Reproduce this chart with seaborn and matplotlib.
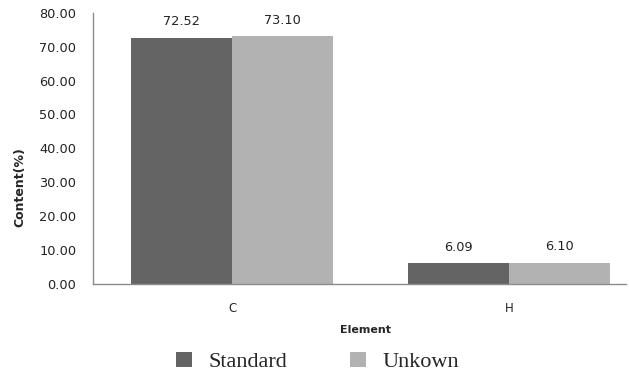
import matplotlib
matplotlib.use("Agg")
import matplotlib.pyplot as plt
import seaborn as sns
import pandas as pd
from matplotlib.patches import Patch

elements = ["C", "H"]
standard = [72.52, 6.09]
unknown = [73.10, 6.10]
series = ["Standard", "Unkown"]
yticks = [0, 10, 20, 30, 40, 50, 60, 70, 80]

df = pd.DataFrame({
    "Element": elements * 2,
    "Content": standard + unknown,
    "Series": [series[0]] * len(elements) + [series[1]] * len(elements),
})

sns.set_style("white")
plt.rcParams["font.family"] = ["DejaVu Sans"]

fig = plt.figure(figsize=(6.29, 3.78), dpi=100)
ax = fig.add_axes([0.148, 0.249, 0.847, 0.717])

colors = ["#646464", "#b2b2b2"]
sns.barplot(data=df, x="Element", y="Content", hue="Series", palette=colors,
            width=0.73, saturation=1, ax=ax, legend=False, edgecolor="none")

for cont in ax.containers:
    ax.bar_label(cont, labels=[f"{v:.2f}" for v in cont.datavalues],
                 padding=7, fontsize=9.3, color="#222222")

ax.set_xlim(-0.502, 1.422)
ax.set_ylim(0, 80)
ax.set_yticks(yticks)
ax.set_yticklabels([f"{v:.2f}" for v in yticks], fontsize=9.3, color="#222222")
ax.tick_params(axis="x", labelsize=8.5, colors="#222222", length=0, pad=13)
ax.tick_params(axis="y", length=0, pad=12)
for s in ["top", "right"]:
    ax.spines[s].set_visible(False)
for s in ["left", "bottom"]:
    ax.spines[s].set_color("#8c8c8c")
    ax.spines[s].set_linewidth(1)

ax.set_ylabel("Content(%)", fontsize=9, fontweight="bold")
ax.yaxis.set_label_coords(-0.126, 0.358)
ax.set_xlabel("Element", fontsize=8, fontweight="bold")
ax.xaxis.set_label_coords(0.512, -0.152)

handles = [Patch(facecolor=c, edgecolor="none") for c in colors]
fig.legend(handles, series, loc="center", bbox_to_anchor=(0.505, 0.042), ncol=2,
           frameon=False, prop={"family": "Liberation Serif", "size": 16},
           handlelength=0.7, handleheight=0.7, columnspacing=2.85, handletextpad=0.75,
           borderpad=0)

fig.savefig("out.png", dpi=100)
